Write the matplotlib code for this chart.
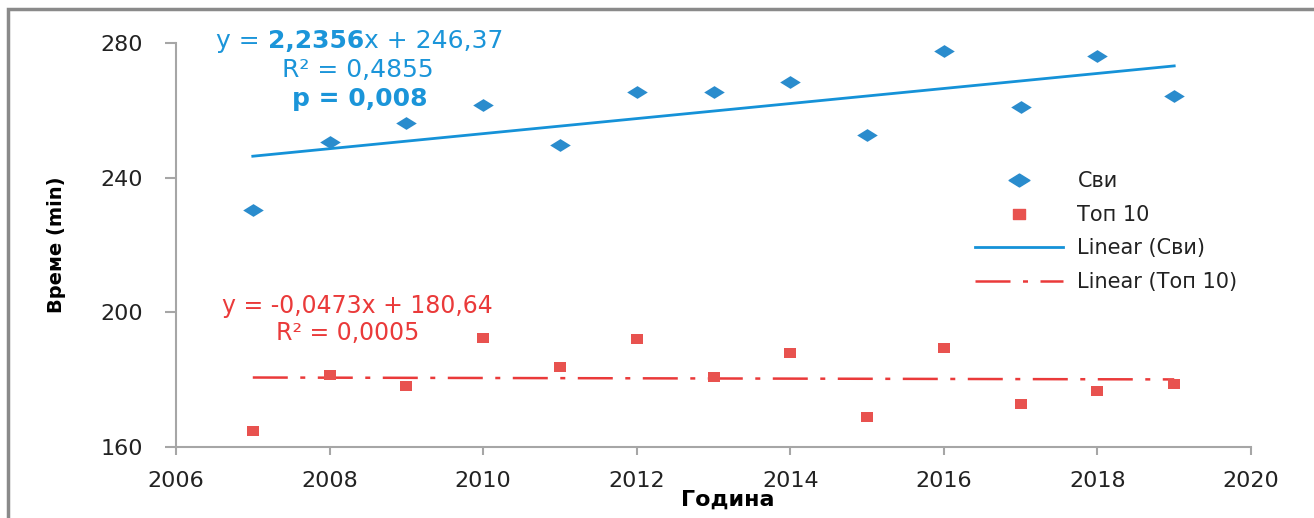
import numpy as np
import matplotlib
matplotlib.use("Agg")
import matplotlib.pyplot as plt
from matplotlib.path import Path
from matplotlib.patches import Rectangle
from matplotlib.lines import Line2D
from matplotlib.offsetbox import TextArea, HPacker, AnnotationBbox

plt.rcParams['font.family'] = ['DejaVu Sans']

years = [2007, 2008, 2009, 2010, 2011, 2012, 2013, 2014, 2015, 2016, 2017, 2018, 2019]
svi = [230.4, 250.6, 256.2, 261.6, 249.7, 265.4, 265.4, 268.4, 252.7, 277.6, 261.0, 276.1, 264.3]
top10 = [164.8, 181.4, 178.1, 192.4, 183.8, 192.1, 180.8, 187.9, 168.9, 189.4, 172.8, 176.6, 178.7]

# trend coefficients as shown on the chart (x = year index starting at 0)
svi_slope, svi_icpt = 2.2356, 246.37
top_slope, top_icpt = -0.0473, 180.64

blue = '#2a8ccd'
blue_line = '#1592d8'
blue_txt = '#1b95d9'
red = '#e8524f'
red_line = '#ea3a3a'

diamond = Path([(-1, 0), (0, 0.62), (1, 0), (0, -0.62), (-1, 0)],
               [Path.MOVETO, Path.LINETO, Path.LINETO, Path.LINETO, Path.CLOSEPOLY])
square = Path([(-1, -0.85), (1, -0.85), (1, 0.85), (-1, 0.85), (-1, -0.85)],
              [Path.MOVETO, Path.LINETO, Path.LINETO, Path.LINETO, Path.CLOSEPOLY])

W, H = 1314, 518
fig = plt.figure(figsize=(W / 100, H / 100), dpi=100)
ax = fig.add_axes([176 / W, 1 - 447 / H, (1251 - 176) / W, (447 - 43) / H])

# outer frame
fig.patches.append(Rectangle((8 / W, -0.05), 1.1, 1 - 9 / H + 0.05,
                             transform=fig.transFigure, fill=False,
                             edgecolor='#8a8a8a', linewidth=2.5))

x = np.array(years)
idx = x - years[0]

ax.scatter(x, svi, marker=diamond, s=220, color=blue, zorder=3, linewidths=0)
ax.scatter(x, top10, marker=square, s=75, color=red, zorder=3, linewidths=0)
ax.plot(x, svi_icpt + svi_slope * idx, color=blue_line, linewidth=2)
ax.plot(x, top_icpt + top_slope * idx, color=red_line, linewidth=1.8,
        dashes=[14, 5, 2, 5])

ax.set_xlim(2006, 2020)
ax.set_ylim(160, 280)
ax.set_xticks(range(2006, 2021, 2))
ax.set_yticks([160, 200, 240, 280])
for s in ['top', 'right']:
    ax.spines[s].set_visible(False)
for s in ['left', 'bottom']:
    ax.spines[s].set_color('#a6a6a6')
    ax.spines[s].set_linewidth(1.5)
ax.tick_params(axis='both', colors='#a6a6a6', width=1.5, labelsize=16,
               labelcolor='#222222')
ax.tick_params(axis='y', length=8, pad=16)
ax.tick_params(axis='x', length=6, pad=11)

ax.set_xlabel('Година', fontsize=16, fontweight='bold')
ax.xaxis.set_label_coords((728 - 176) / (1251 - 176), -(490 - 447) / (447 - 43))
ax.set_ylabel('Време (min)', fontsize=14, fontweight='bold')
ax.yaxis.set_label_coords(-(176 - 66) / (1251 - 176), 0.5)

# blue equation with bold coefficient
fs = 18
parts = [TextArea('y = ', textprops=dict(color=blue_txt, fontsize=fs)),
         TextArea('2,2356', textprops=dict(color=blue_txt, fontsize=fs, fontweight='bold')),
         TextArea('x + 246,37', textprops=dict(color=blue_txt, fontsize=fs))]
pack = HPacker(children=parts, pad=0, sep=0)
ab = AnnotationBbox(pack, (360 / W, 1 - 41 / H), xycoords='figure fraction',
                    frameon=False, box_alignment=(0.5, 0.5))
fig.add_artist(ab)
fig.text(358 / W, 1 - 70 / H, 'R² = 0,4855', color=blue_txt, fontsize=fs,
         ha='center', va='center')
fig.text(360 / W, 1 - 99 / H, 'p = 0,008', color=blue_txt, fontsize=fs,
         fontweight='bold', ha='center', va='center')

fig.text(357 / W, 1 - 306 / H, 'y = -0,0473x + 180,64', color=red_line,
         fontsize=17, ha='center', va='center')
fig.text(348 / W, 1 - 333 / H, 'R² = 0,0005', color=red_line, fontsize=17,
         ha='center', va='center')

handles = [Line2D([], [], marker=diamond, markersize=15, color=blue, linestyle='none'),
           Line2D([], [], marker=square, markersize=9, color=red, linestyle='none'),
           Line2D([], [], color=blue_line, linewidth=2),
           Line2D([], [], color=red_line, linewidth=1.8, dashes=[14, 5, 2, 5])]
labels = ['Сви', 'Топ 10', 'Linear (Сви)', 'Linear (Топ 10)']
fig.legend(handles, labels, loc='upper left', bbox_to_anchor=(967 / W, 1 - 163 / H),
           borderaxespad=0, frameon=False, fontsize=15, handlelength=4.2,
           handletextpad=0.7, labelspacing=0.65, labelcolor='#222222')

fig.savefig('out.png', dpi=100)
